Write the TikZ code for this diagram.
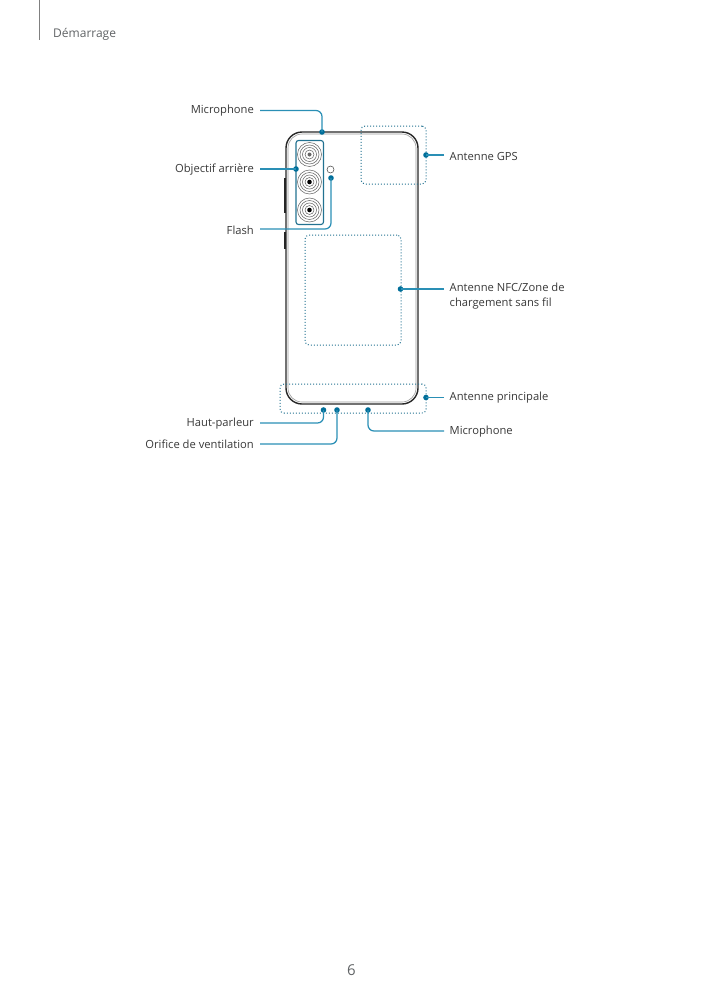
\documentclass[tikz,border=0pt]{standalone}
\usepackage{fontspec}
\setmainfont{Open Sans}
\definecolor{teal1}{HTML}{2A8FB5}
\definecolor{dotc}{HTML}{006E99}
\definecolor{greyt}{HTML}{606365}
\begin{document}
\begin{tikzpicture}[x=1pt,y=-1pt,
  lbl/.style={inner sep=0pt,font=\fontsize{11.2}{14}\selectfont,text=black!78},
  lblr/.style={lbl,anchor=east},
  lbll/.style={lbl,anchor=west},
  lead/.style={draw=teal1,line width=1.25pt,rounded corners=6pt},
  zone/.style={draw=teal1!80!black,line width=1pt,dotted,rounded corners=4pt},
  endpt/.style={circle,fill=dotc,inner sep=0pt,minimum size=5.6pt},
  lens/.style={draw=black!60,line width=0.55pt}]
\useasboundingbox (0,0) rectangle (703,994);
% header / page
\draw[black!50,line width=0.9pt] (39.5,0) -- (39.5,40);
\node[inner sep=0pt,anchor=west,text=greyt,font=\fontsize{12}{14}\selectfont] (hdr) at (53,34) {Démarrage};
\node[inner sep=0pt,text=greyt,font=\fontsize{15}{18}\selectfont] (pg) at (351.5,970) {6};
% phone
\fill[black!85] (283.5,178) rectangle (286,213);
\fill[black!85] (283.5,232) rectangle (286,249);
\draw[black!85,line width=1.4pt,rounded corners=16pt] (286,132) rectangle (418,404);
\draw[black!40,line width=0.6pt,rounded corners=14pt] (288,134) rectangle (416,402);
% lenses
\foreach \n/\y in {a/154.5,b/182,c/210}{
  \foreach \r in {12,9.5,7,4.5}{\draw[lens] (309.5,\y) circle (\r);}
}
\fill[black!60] (309.5,154.5) circle (2);
\fill[black] (309.5,182) circle (2.3);
\fill[black] (309.5,210) circle (2.3);
\draw[black!70,line width=0.55pt] (330.5,169.5) circle (3.5);
% zones
\node[draw=teal1!80!black,line width=1.1pt,rounded corners=2.5pt,inner sep=0pt,minimum width=27.5pt,minimum height=84pt] (lensbox) at (309.75,182.5) {};
\node[zone,inner sep=0pt,minimum width=65pt,minimum height=58pt] (gps) at (393.5,155) {};
\node[zone,inner sep=0pt,minimum width=96pt,minimum height=110pt] (nfc) at (353,290) {};
\node[zone,inner sep=0pt,minimum width=146pt,minimum height=29pt] (main) at (353,398.5) {};
% labels
\node[lblr] (lMicT) at (254,111) {Microphone};
\node[lblr] (lLens) at (254,170) {Objectif arrière};
\node[lblr] (lFlash) at (254,230) {Flash};
\node[lblr] (lSpk) at (254,424) {Haut-parleur};
\node[lblr] (lVent) at (254,444.5) {Orifice de ventilation};
\node[lbll] (lGps) at (449.5,156) {Antenne GPS};
\node[lbll,align=left,font=\fontsize{11.2}{15}\selectfont] (lNfc) at (449.5,296.5) {Antenne NFC/Zone de\\chargement sans fil};
\node[lbll] (lMain) at (449.5,398) {Antenne principale};
\node[lbll] (lMicB) at (449.5,432) {Microphone};
% end points
\node[endpt] (pMicT) at (322,132) {};
\node[endpt] (pLens) at (296,169) {};
\node[endpt] (pFlash) at (331,178) {};
\node[endpt] (pGps) at (426,155) {};
\node[endpt] (pNfc) at (400.5,289) {};
\node[endpt] (pMain) at (426,397.5) {};
\node[endpt] (pSpk) at (323.5,410) {};
\node[endpt] (pVent) at (337,410) {};
\node[endpt] (pMicB) at (368,410) {};
% free corners of the leaders
\coordinate (sMicT) at (260,110.5);
\coordinate (sLens) at (260,169);
\coordinate (sFlash) at (260,229);
\coordinate (sSpk) at (260,423);
\coordinate (sVent) at (260,444);
\coordinate (sGps) at (444,155);
\coordinate (sNfc) at (444,289);
\coordinate (sMain) at (444,397.5);
\coordinate (sMicB) at (444,431);
\draw[lead] (sMicT) -| (pMicT.center);
\draw[lead] (sLens) -- (pLens.center);
\draw[lead] (sFlash) -| (pFlash.center);
\draw[lead] (sGps) -- (pGps.center);
\draw[lead] (sNfc) -- (pNfc.center);
\draw[lead] (sMain) -- (pMain.center);
\draw[lead] (sSpk) -| (pSpk.center);
\draw[lead] (sVent) -| (pVent.center);
\draw[lead] (sMicB) -| (pMicB.center);
\end{tikzpicture}
\end{document}
